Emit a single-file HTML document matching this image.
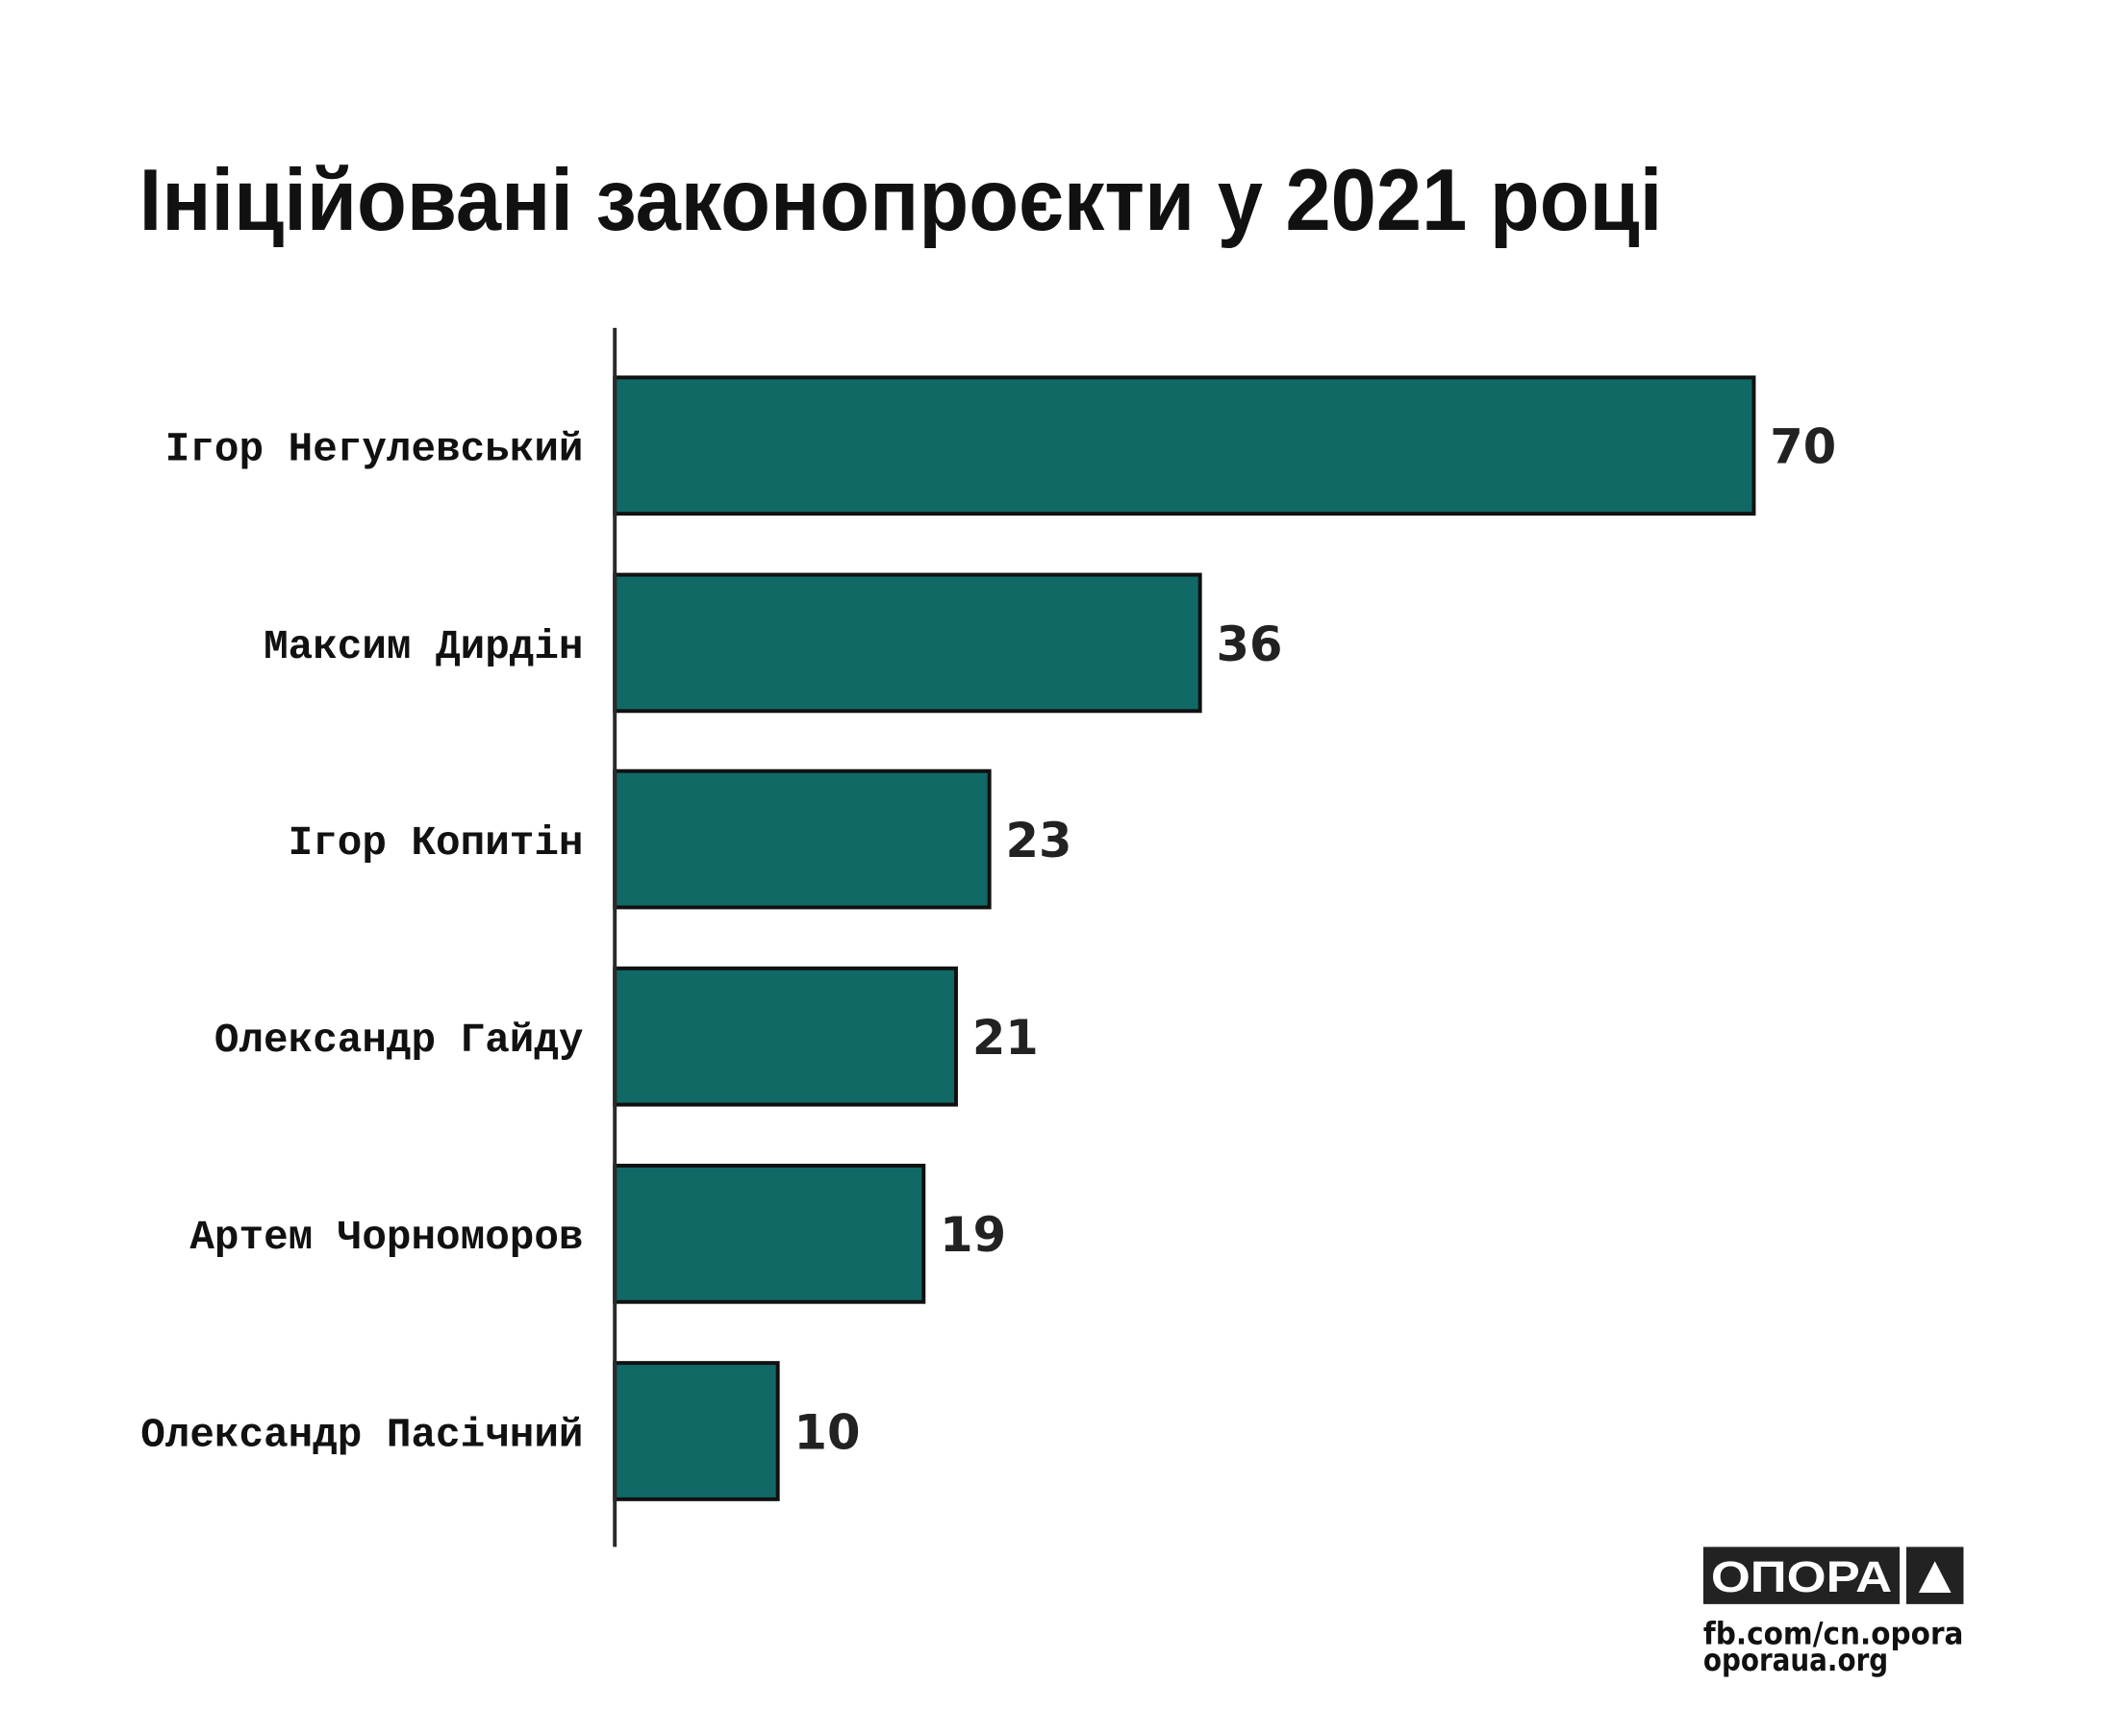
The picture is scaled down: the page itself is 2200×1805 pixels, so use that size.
<!DOCTYPE html>
<html><head><meta charset="utf-8"><style>html,body{margin:0;padding:0;background:#fff}</style></head>
<body>
<svg width="2200" height="1800" viewBox="0 0 2200 1800" xmlns="http://www.w3.org/2000/svg">
<rect width="2200" height="1800" fill="#fff"/>
<g transform="scale(0.991)">
<text x="146" y="241" font-family="Liberation Sans, sans-serif" font-weight="bold" font-size="92" fill="#111" textLength="1598" lengthAdjust="spacingAndGlyphs">Ініційовані законопроєкти у 2021 році</text>
<g stroke="#111" stroke-width="4" fill="#116966">
<rect x="645" y="396" width="1195" height="143"/>
<rect x="645" y="603" width="614" height="143"/>
<rect x="645" y="809" width="393" height="143"/>
<rect x="645" y="1016" width="358" height="143"/>
<rect x="645" y="1223" width="324" height="143"/>
<rect x="645" y="1430" width="171" height="143"/>
</g>
<line x1="645" y1="344" x2="645" y2="1623" stroke="#2a2a2a" stroke-width="4"/>
<g font-family="Liberation Mono, monospace" font-weight="bold" font-size="43" fill="#111" text-anchor="end">
<text x="612" y="483">Ігор Негулевський</text>
<text x="612" y="690">Максим Дирдін</text>
<text x="612" y="896">Ігор Копитін</text>
<text x="612" y="1103">Олександр Гайду</text>
<text x="612" y="1310">Артем Чорноморов</text>
<text x="612" y="1517">Олександр Пасічний</text>
</g>
<g font-family="DejaVu Sans, sans-serif" font-weight="bold" font-size="50" fill="#222">
<text x="1857" y="486">70</text>
<text x="1276" y="693">36</text>
<text x="1055" y="899">23</text>
<text x="1020" y="1106">21</text>
<text x="986" y="1313">19</text>
<text x="833" y="1520">10</text>
</g>
<rect x="1787" y="1623" width="206" height="60" fill="#222"/>
<text x="1795" y="1670" font-family="Liberation Sans, sans-serif" font-weight="bold" font-size="46" fill="#fff" textLength="190" lengthAdjust="spacingAndGlyphs">ОПОРА</text>
<rect x="2000" y="1623" width="60" height="60" fill="#222"/>
<polygon points="2030,1638 2047,1671 2013,1671" fill="#fff"/>
<text x="1787" y="1725" font-family="DejaVu Sans, sans-serif" font-weight="bold" font-size="32" fill="#111" textLength="273" lengthAdjust="spacingAndGlyphs">fb.com/cn.opora</text>
<text x="1787" y="1753" font-family="DejaVu Sans, sans-serif" font-weight="bold" font-size="32" fill="#111" textLength="194" lengthAdjust="spacingAndGlyphs">oporaua.org</text>
</g>
</svg>
</body></html>
